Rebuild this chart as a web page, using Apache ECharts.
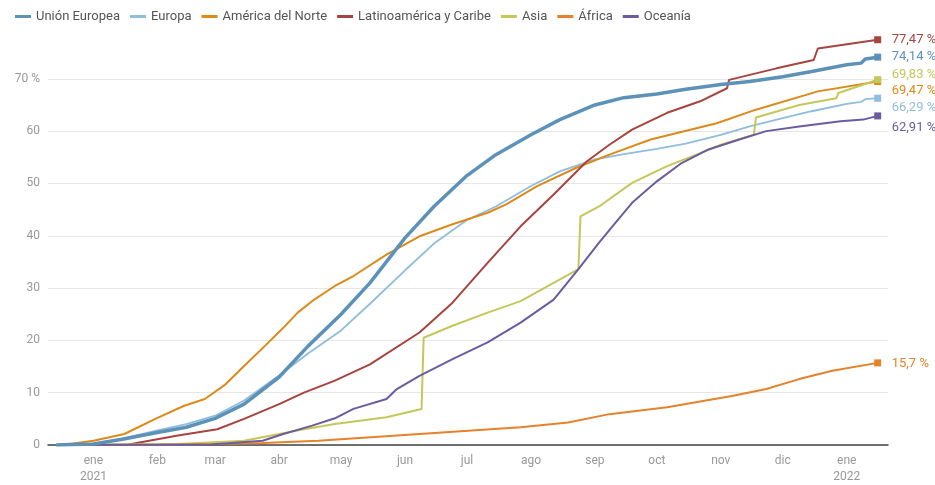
<!DOCTYPE html>
<html>
<head>
<meta charset="utf-8">
<script src="https://cdn.jsdelivr.net/npm/echarts@6/dist/echarts.min.js"></script>
<style>
html,body{margin:0;padding:0;background:#fff;}
#chart{width:935px;height:485px;}
</style>
</head>
<body>
<div id="chart"></div>
<script>
var seriesNames = ['Unión Europea','Europa','América del Norte','Latinoamérica y Caribe','Asia','África','Oceanía'];
var monthNames = ['ene','feb','mar','abr','may','jun','jul','ago','sep','oct','nov','dic'];
var yTicks = [0,10,20,30,40,50,60,70];

var unionEuropea = [
  ['2020-12-14',0],['2021-01-01',0.2],['2021-01-15',1.1],['2021-02-01',2.4],['2021-02-15',3.4],
  ['2021-03-01',5.1],['2021-03-15',7.8],['2021-04-01',13.0],['2021-04-15',18.9],['2021-05-01',25.0],
  ['2021-05-15',31.0],['2021-06-01',39.6],['2021-06-15',45.6],['2021-07-01',51.5],['2021-07-15',55.5],
  ['2021-08-01',59.3],['2021-08-15',62.2],['2021-09-01',65.0],['2021-09-15',66.4],['2021-10-01',67.1],
  ['2021-10-15',68.0],['2021-11-01',68.9],['2021-11-15',69.5],['2021-12-01',70.4],['2021-12-15',71.4],
  ['2022-01-01',72.7],['2022-01-08',73.0],['2022-01-10',73.8],['2022-01-16',74.14]
];
var europa = [
  ['2020-12-14',0],['2021-01-01',0.2],['2021-01-15',1.2],['2021-02-01',2.8],['2021-02-15',4.0],
  ['2021-03-01',5.6],['2021-03-15',8.5],['2021-04-01',13.3],['2021-04-15',17.5],['2021-05-01',21.9],
  ['2021-05-15',27.0],['2021-06-01',33.4],['2021-06-15',38.5],['2021-07-01',43.0],['2021-07-15',45.6],
  ['2021-08-01',49.5],['2021-08-15',52.3],['2021-09-01',54.6],['2021-09-15',55.6],['2021-10-01',56.6],
  ['2021-10-15',57.6],['2021-11-01',59.3],['2021-11-15',60.9],['2021-12-01',62.5],['2021-12-15',63.8],
  ['2022-01-01',65.2],['2022-01-08',65.6],['2022-01-10',66.1],['2022-01-16',66.29]
];
var americaNorte = [
  ['2020-12-14',0],['2020-12-22',0.3],['2021-01-01',0.8],['2021-01-16',2.1],['2021-01-31',5.0],
  ['2021-02-14',7.5],['2021-02-24',8.8],['2021-03-06',11.6],['2021-03-15',15.1],['2021-03-25',18.9],
  ['2021-04-03',22.4],['2021-04-10',25.3],['2021-04-18',27.8],['2021-04-28',30.4],['2021-05-07',32.3],
  ['2021-05-23',36.4],['2021-06-08',39.9],['2021-06-24',42.2],['2021-07-11',44.4],['2021-07-20',46.0],
  ['2021-08-04',49.5],['2021-08-23',53.0],['2021-09-08',55.5],['2021-09-28',58.4],['2021-10-30',61.5],
  ['2021-11-18',64.1],['2021-12-18',67.6],['2022-01-16',69.47]
];
var latinoamerica = [
  ['2020-12-14',0],['2021-01-18',0.1],['2021-02-11',1.8],['2021-03-02',3.0],['2021-03-15',5.0],
  ['2021-04-01',7.8],['2021-04-13',10.0],['2021-04-28',12.3],['2021-05-15',15.4],['2021-06-08',21.5],
  ['2021-06-24',27.2],['2021-07-11',34.8],['2021-07-27',41.8],['2021-08-12',47.9],['2021-08-28',54.2],
  ['2021-09-08',57.4],['2021-09-19',60.3],['2021-10-06',63.5],['2021-10-22',65.7],['2021-11-04',68.2],
  ['2021-11-05',69.8],['2021-11-28',72.0],['2021-12-16',73.6],['2021-12-18',75.8],['2022-01-16',77.47]
];
var asia = [
  ['2020-12-14',0],['2021-02-11',0.2],['2021-03-15',0.8],['2021-04-13',3.0],['2021-04-28',4.0],
  ['2021-05-23',5.3],['2021-06-09',6.9],['2021-06-10',20.5],['2021-06-24',22.8],['2021-07-11',25.3],
  ['2021-07-27',27.5],['2021-08-12',31.0],['2021-08-24',33.6],['2021-08-25',43.7],['2021-09-03',45.6],
  ['2021-09-19',50.1],['2021-10-06',53.3],['2021-10-22',55.8],['2021-11-01',57.4],['2021-11-17',59.3],
  ['2021-11-18',62.6],['2021-12-09',65.0],['2021-12-27',66.3],['2021-12-28',67.3],['2022-01-16',69.83]
];
var africa = [
  ['2020-12-14',0],['2021-02-01',0.05],['2021-03-01',0.2],['2021-03-24',0.4],['2021-04-20',0.8],
  ['2021-06-08',2.1],['2021-07-27',3.4],['2021-08-19',4.3],['2021-09-08',5.9],['2021-10-06',7.2],
  ['2021-11-07',9.4],['2021-11-23',10.7],['2021-12-09',12.6],['2021-12-25',14.2],['2022-01-16',15.7]
];
var oceania = [
  ['2020-12-14',0],['2021-02-27',0.1],['2021-03-24',0.8],['2021-04-03',2.1],['2021-04-17',3.7],
  ['2021-04-28',5.1],['2021-05-07',6.9],['2021-05-23',8.8],['2021-05-28',10.7],['2021-06-08',13.2],
  ['2021-06-24',16.4],['2021-07-11',19.6],['2021-07-27',23.4],['2021-08-12',27.8],['2021-08-24',33.6],
  ['2021-09-03',38.7],['2021-09-11',42.5],['2021-09-19',46.3],['2021-10-01',50.4],['2021-10-13',53.9],
  ['2021-10-26',56.5],['2021-11-10',58.4],['2021-11-23',60.0],['2021-12-09',60.9],['2021-12-29',61.9],
  ['2022-01-09',62.2],['2022-01-16',62.91]
];

var seriesData = [unionEuropea, europa, americaNorte, latinoamerica, asia, africa, oceania];
var colors = ['#5d92b8','#8fbddc','#dc8a1a','#a8443f','#c4c75a','#e5822a','#6c5c9f'];
var widths = [3.5, 1.8, 2, 2, 2, 2, 2];
var labelOffsets = [[6,0],[6,10],[6,9],[6,0],[6,-5],[6,1],[6,12]];

var chart = echarts.init(document.getElementById('chart'), null, {renderer:'canvas'});

var series = seriesNames.map(function(name, i){
  var d = seriesData[i];
  return {
    name: name,
    type: 'line',
    data: d,
    showSymbol: true,
    symbol: 'rect',
    symbolSize: function(v, p){ return p.dataIndex === d.length - 1 ? 7 : 0; },
    itemStyle: {color: colors[i]},
    lineStyle: {color: colors[i], width: widths[i]},
    emphasis: {disabled: true},
    z: i === 0 ? 3 : 2,
    endLabel: {
      show: true,
      color: colors[i],
      fontSize: 13,
      fontFamily: 'Roboto',
      offset: labelOffsets[i],
      formatter: function(p){ return String(p.value[1]).replace('.', ',') + ' %'; }
    }
  };
});

var option = {
  animation: false,
  backgroundColor: '#fff',
  textStyle: {fontFamily: 'Roboto'},
  color: colors,
  legend: {
    left: 10, top: 5,
    icon: 'rect',
    itemWidth: 16, itemHeight: 3,
    itemGap: 10,
    textStyle: {color: '#555', fontSize: 13, fontFamily: 'Roboto'},
    data: seriesNames
  },
  grid: {left: 48, right: 47, top: 26.5, bottom: 39},
  xAxis: {
    type: 'time',
    min: '2020-12-10',
    max: '2022-01-21',
    minInterval: 28 * 86400000,
    maxInterval: 31 * 86400000,
    axisLine: {show: true, lineStyle: {color: '#444', width: 1.5}},
    axisTick: {show: false},
    splitLine: {show: false},
    axisLabel: {
      color: '#999', fontSize: 12, lineHeight: 16, margin: 8,
      showMinLabel: false, showMaxLabel: false,
      formatter: function(val){
        var dt = new Date(val);
        var m = dt.getMonth();
        return m === 0 ? monthNames[m] + '\n' + dt.getFullYear() : monthNames[m];
      }
    }
  },
  yAxis: {
    type: 'value',
    min: 0, max: 80, interval: 10,
    axisLine: {show: false},
    axisTick: {show: false},
    splitLine: {lineStyle: {color: ['#e6e6e6','#e6e6e6','#e6e6e6','#e6e6e6','#e6e6e6','#e6e6e6','#e6e6e6','#e6e6e6','rgba(0,0,0,0)'], width: 1}},
    axisLabel: {
      color: '#999', fontSize: 12, margin: 8,
      formatter: function(v){ if (yTicks.indexOf(v) < 0) return ''; return v === 70 ? '70 %' : String(v); }
    }
  },
  series: series
};
chart.setOption(option);
</script>
</body>
</html>
